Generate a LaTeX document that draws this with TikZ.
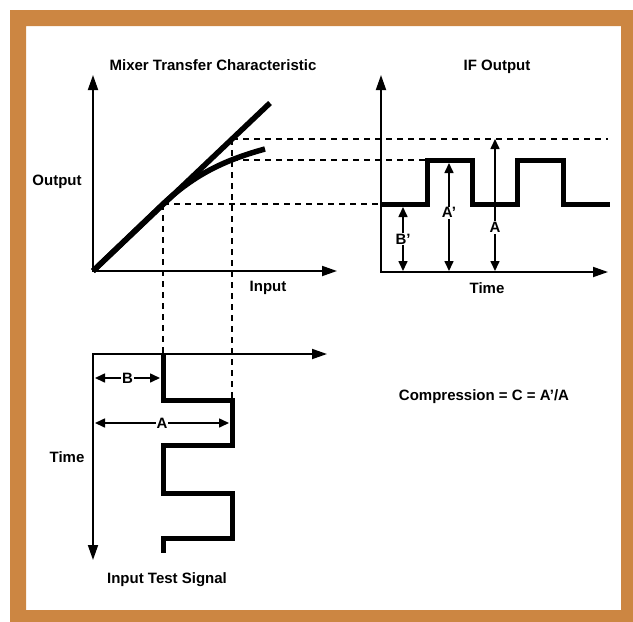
\documentclass[tikz,border=0pt]{standalone}
\usepackage{fontspec}
\setmainfont{Liberation Sans}
\usetikzlibrary{arrows.meta}

\definecolor{framecol}{RGB}{204,134,66}

\begin{document}
\begin{tikzpicture}[
  x=1pt, y=-1pt,
  lbl/.style={font=\fontsize{15}{18}\selectfont\bfseries, inner sep=1pt},
  axis/.style={line width=1.8pt,
               {Triangle[length=15pt,width=10pt]}-{Triangle[length=15pt,width=10pt]}},
  dim/.style={line width=1.6pt,
              {Triangle[length=10pt,width=9pt]}-{Triangle[length=10pt,width=9pt]}},
  curve/.style={line width=5.5pt, line cap=butt},
  wave/.style={line width=5pt, line join=miter},
  guide/.style={line width=1.5pt, dash pattern=on 6pt off 5pt}
]
\useasboundingbox (0,0) rectangle (633,622);
\fill[framecol, even odd rule] (10,10) rectangle (633,622) (26,26) rectangle (621,610);

% mixer transfer characteristic
\coordinate (my) at (93,75);
\coordinate (mo) at (93,271);
\coordinate (mx) at (337,271);
\coordinate (lin) at (270,103);
\coordinate (low) at (163,204);
\coordinate (high) at (232,139);
\coordinate (comp) at (232,160);
\coordinate (sat) at (265,149);
\draw[axis] (my) |- (mx);
\draw[curve] (mo) -- (lin);
\draw[curve] (mo) -- (low) .. controls (195,174) and (225,160) .. (sat);
\node[lbl] (mixtitle) at (213,65) {Mixer Transfer Characteristic};
\node[lbl] (outlbl) at (57,182) {Output};
\node[lbl] (inlbl) at (268,288) {Input};

% IF output
\coordinate (iy) at (381,75);
\coordinate (ix) at (608,272);
\draw[axis] (iy) |- (ix);
\coordinate (r1) at (427,204);
\coordinate (f1) at (472,204);
\coordinate (r2) at (517,204);
\coordinate (f2) at (563,204);
\draw[wave] (381,204) -- (r1) -- ++(0,-44) -| (f1) -- (r2) -- ++(0,-44) -| (f2) -- (610,204);
\node[lbl] (iftitle) at (497,67) {IF Output};
\node[lbl] (timelbl) at (487,288) {Time};

\coordinate (bpt) at (403,207);
\coordinate (bpb) at (403,271);
\coordinate (apt) at (449,163);
\coordinate (apb) at (449,271);
\coordinate (at) at (495,139);
\coordinate (ab) at (495,271);
\draw[dim] (bpt) -- node[lbl, fill=white] {B'} (bpb);
\draw[dim] (apt) -- node[lbl, fill=white, pos=.46] {A'} (apb);
\draw[dim] (at) -- node[lbl, fill=white, pos=.67] {A} (ab);

% guide lines
\draw[guide] (high) -- (high -| ix);
\draw[guide] (comp) -- (comp -| r1);
\draw[guide] (low) -- (low -| iy);
\draw[guide] (low) -- (163,354);
\draw[guide] (high) -- (232,400);

% input test signal
\coordinate (sx) at (327,354);
\coordinate (sy) at (93,560);
\draw[axis] (sx) -| (sy);
\draw[wave] (163,354) -- (163,400) -- (232,400) -- (232,445) -- (163,445)
  -- (163,493) -- (232,493) -- (232,538) -- (163,538) -- (163,553);
\coordinate (b0) at (95,378);
\coordinate (b1) at (160,378);
\coordinate (a0) at (95,423);
\coordinate (a1) at (229,423);
\draw[dim] (b0) -- node[lbl, fill=white] {B} (b1);
\draw[dim] (a0) -- node[lbl, fill=white] {A} (a1);
\node[lbl] (stime) at (67,457) {Time};
\node[lbl] (sigtitle) at (167,580) {Input Test Signal};

\node[lbl] (compr) at (484,397) {Compression = C = A'/A};
\end{tikzpicture}
\end{document}
